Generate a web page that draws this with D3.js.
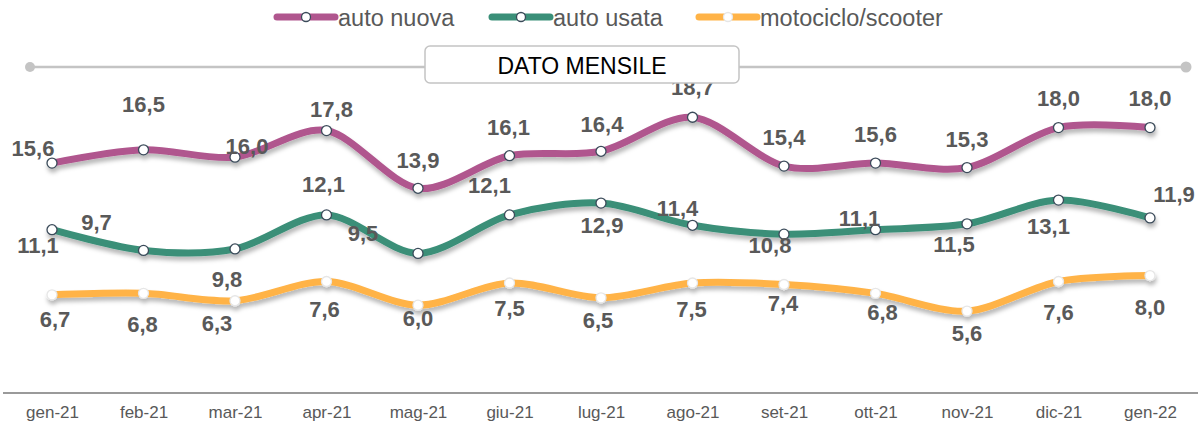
<!DOCTYPE html>
<html>
<head>
<meta charset="utf-8">
<script src="https://cdn.jsdelivr.net/npm/d3@7/dist/d3.min.js"></script>
<style>
  html, body { margin: 0; padding: 0; background: #fff; }
  svg { display: block; font-family: "Liberation Sans", Arial, sans-serif; }
</style>
</head>
<body>
<svg id="chart" width="1201" height="425"></svg>
<script>
// ---- data ----
const categories = ["gen-21","feb-21","mar-21","apr-21","mag-21","giu-21","lug-21","ago-21","set-21","ott-21","nov-21","dic-21","gen-22"];
const seriesNames = ["auto nuova","auto usata","motociclo/scooter"];
const autoNuova = [15.6,16.5,16.0,17.8,13.9,16.1,16.4,18.7,15.4,15.6,15.3,18.0,18.0];
const autoUsata = [11.1,9.7,9.8,12.1,9.5,12.1,12.9,11.4,10.8,11.1,11.5,13.1,11.9];
const moto = [6.7,6.8,6.3,7.6,6.0,7.5,6.5,7.5,7.4,6.8,5.6,7.6,8.0];
const titleText = "DATO MENSILE";

// ---- styling / layout ----
const colors = ["#B0568E", "#3A8F78", "#FFB347"];
const markerStroke = ["#3b4b5a", "#3b4b5a", "#e6e6e6"];
// label offsets (dx, dy) relative to each point, mimicking the original placement
const labelOffsets = [
  [[-19,-15],[0,-45],[12,-11],[5,-21],[0,-28],[-1,-28],[1,-27],[0,-30],[0,-29],[0,-29],[0,-28],[0,-29],[0,-29]],
  [[-14,16],[-47,-28],[-8,31],[-3,-30],[-55,-20],[-20,-29],[1,22],[-15,-17],[-14,11],[-16,-11],[-13,21],[-10,26],[24,-23]],
  [[3,25],[-1,31],[-18,23],[-2,28],[0,13],[0,25],[-3,23],[-1,26],[-1,19],[7,19],[0,22],[0,31],[0,32]]
];
const allSeries = [autoNuova, autoUsata, moto];
const fmt = v => d3.format(".1f")(v).replace(".", ",");

const svg = d3.select("#chart");
const x = d3.scalePoint().domain(categories).range([52, 1150]);
const y = d3.scaleLinear().domain([0, 25]).range([394, 24]);

// shadow filter
const defs = svg.append("defs");
const f = defs.append("filter").attr("id","shadow").attr("x","-10%").attr("y","-50%").attr("width","120%").attr("height","200%");
f.append("feGaussianBlur").attr("in","SourceAlpha").attr("stdDeviation",2.2).attr("result","b");
f.append("feOffset").attr("in","b").attr("dx",1).attr("dy",4).attr("result","o");
f.append("feFlood").attr("flood-color","#000").attr("flood-opacity",0.28);
f.append("feComposite").attr("in2","o").attr("operator","in").attr("result","s");
const m = f.append("feMerge");
m.append("feMergeNode").attr("in","s");
m.append("feMergeNode").attr("in","SourceGraphic");

// x axis line + labels
const xAxis = d3.axisBottom(x).tickSize(0).tickPadding(13);
const gx = svg.append("g").attr("transform","translate(0,393)").call(xAxis);
gx.select(".domain").remove();
gx.selectAll("text").attr("font-size",17).attr("fill","#595959").attr("font-family","'Liberation Sans', Arial, sans-serif");
svg.append("line").attr("x1",3).attr("x2",1198).attr("y1",393).attr("y2",393)
  .attr("stroke","#9a9a9a").attr("stroke-width",2);

// lines
const line = d3.line().x((d,i)=>x(categories[i])).y(d=>y(d)).curve(d3.curveCardinal.tension(0.1));
allSeries.forEach((s, k) => {
  const g = svg.append("g").attr("filter","url(#shadow)");
  g.append("path").datum(s).attr("d", line).attr("fill","none")
    .attr("stroke", colors[k]).attr("stroke-width", 7).attr("stroke-linecap","round");
  g.selectAll("circle").data(s).join("circle")
    .attr("cx",(d,i)=>x(categories[i])).attr("cy",d=>y(d)).attr("r",5)
    .attr("fill","#fff").attr("stroke",markerStroke[k]).attr("stroke-width",1.3);
});

// title line and end dots
svg.append("line").attr("x1",30).attr("x2",1186).attr("y1",67).attr("y2",67)
  .attr("stroke","#c4c4c4").attr("stroke-width",2.5);
svg.append("circle").attr("cx",30).attr("cy",67).attr("r",5).attr("fill","#c4c4c4");
svg.append("circle").attr("cx",1186).attr("cy",67).attr("r",5.5).attr("fill","#c4c4c4");

// data labels (some partially hidden behind title box as in original)
allSeries.forEach((s, k) => {
  svg.append("g").selectAll("text").data(s).join("text")
    .attr("x",(d,i)=>x(categories[i]) + labelOffsets[k][i][0])
    .attr("y",(d,i)=>y(d) + labelOffsets[k][i][1])
    .attr("text-anchor","middle").attr("dominant-baseline","central")
    .attr("font-size",22).attr("font-weight","bold").attr("fill","#595959")
    .text(d=>fmt(d));
});

svg.append("rect").attr("x",425).attr("y",46).attr("width",314).attr("height",37).attr("rx",5)
  .attr("fill","#fff").attr("stroke","#c4c4c4").attr("stroke-width",1.5);
svg.append("text").attr("x",582).attr("y",66).attr("text-anchor","middle").attr("dominant-baseline","central")
  .attr("font-size",23).attr("fill","#000").text(titleText);

// legend
const legendX = [277, 492, 699];
const leg = svg.append("g");
seriesNames.forEach((n, k) => {
  const g = leg.append("g").attr("transform",`translate(${legendX[k]},17)`);
  g.append("line").attr("x1",0).attr("x2",58).attr("y1",0).attr("y2",0)
    .attr("stroke",colors[k]).attr("stroke-width",7).attr("stroke-linecap","round");
  g.append("circle").attr("cx",29).attr("cy",0).attr("r",4.5).attr("fill","#fff")
    .attr("stroke",markerStroke[k]).attr("stroke-width",1.3);
  g.append("text").attr("x",61).attr("y",1).attr("dominant-baseline","central")
    .attr("font-size",23.5).attr("fill","#595959").text(n);
});
</script>
</body>
</html>
